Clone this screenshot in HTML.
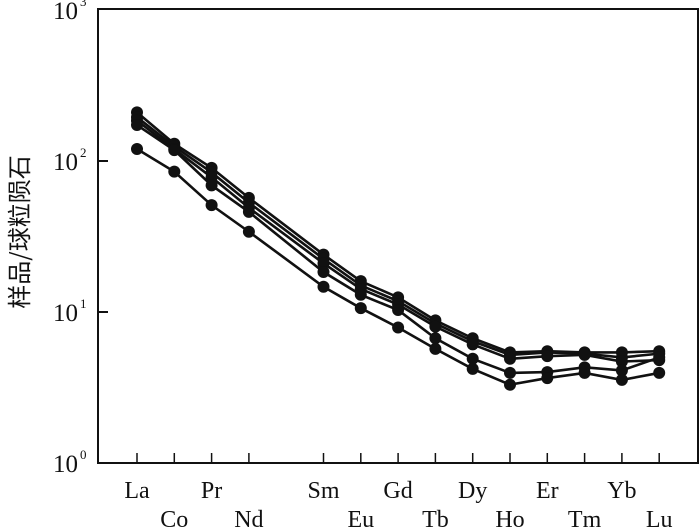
<!DOCTYPE html>
<html><head><meta charset="utf-8"><style>
html,body{margin:0;padding:0;background:#fff}
svg{display:block}
text{font-family:"Liberation Serif","Noto Serif CJK SC",serif;fill:#111}
</style></head><body>
<svg id="chart" width="700" height="531" viewBox="0 0 700 531">
<rect x="98" y="9" width="600" height="454" fill="none" stroke="#111" stroke-width="2"/>
<g id="axes"></g>
<g id="series"></g>
<text transform="translate(28,232) rotate(-90)" text-anchor="middle" font-size="24" style="font-family:'Noto Sans CJK SC',sans-serif">样品/球粒陨石</text>
</svg>
<script>
const categories=["La","Co","Pr","Nd","Sm","Eu","Gd","Tb","Dy","Ho","Er","Tm","Yb","Lu"];
const catIndex=[0,1,2,3,5,6,7,8,9,10,11,12,13,14];
const yTicks=[0,1,2,3];
const s1=[210,130,90,57,24,16,12.5,8.8,6.7,5.4,5.5,5.4,5.4,5.5];
const s2=[195,125,84,53,22.5,15,11.8,8.4,6.4,5.2,5.4,5.3,5.0,5.3];
const s3=[185,120,78,49,21,14.2,11.2,8.0,6.1,4.9,5.1,5.2,4.7,4.8];
const s4=[173,118,69,46,18.4,13,10.3,6.7,4.9,3.95,4.0,4.3,4.1,5.0];
const s5=[120,85,51,34,14.7,10.6,7.9,5.7,4.2,3.3,3.65,3.95,3.55,3.95];
const seriesList=[s1,s2,s3,s4,s5];
const NS="http://www.w3.org/2000/svg";
const x=i=>137+37.3*catIndex[i];
const y=v=>463-151*Math.log10(v);
const axes=document.getElementById('axes'), sg=document.getElementById('series');
function mk(tag,attrs,parent){const e=document.createElementNS(NS,tag);for(const k in attrs)e.setAttribute(k,attrs[k]);parent.appendChild(e);return e;}
yTicks.forEach(p=>{
  const yy=y(Math.pow(10,p));
  if(p>0&&p<3){const t=mk('line',{x1:98,x2:108,y1:yy,y2:yy,stroke:'#111','stroke-width':2},axes);
  
  }
  const tx=mk('text',{x:78,y:yy+9,'text-anchor':'end','font-size':25},axes);
  tx.textContent='10';
  
  
  const sp=mk('text',{x:80,y:yy-4,'font-size':13},axes);
  sp.textContent=String(p);
  
  
});
categories.forEach((c,i)=>{
  const xx=x(i);
  const t=mk('line',{x1:xx,x2:xx,y1:463,y2:453,stroke:'#111','stroke-width':1.5},axes);
  
  
  const row=i%2===0?0:1;
  const tx=mk('text',{x:xx,y:row?527:498,'text-anchor':'middle','font-size':24},axes);
  tx.textContent=c;
  
  
});
seriesList.forEach((s,k)=>{
  const pl=mk('polyline',{points:s.map((v,i)=>x(i)+','+y(v)).join(' '),fill:'none',stroke:'#111','stroke-width':2.6},sg);
  
  
  s.forEach((v,i)=>{
    const c=mk('circle',{cx:x(i),cy:y(v),r:6,fill:'#111'},sg);
    
    
  });
});
</script>
</body></html>
